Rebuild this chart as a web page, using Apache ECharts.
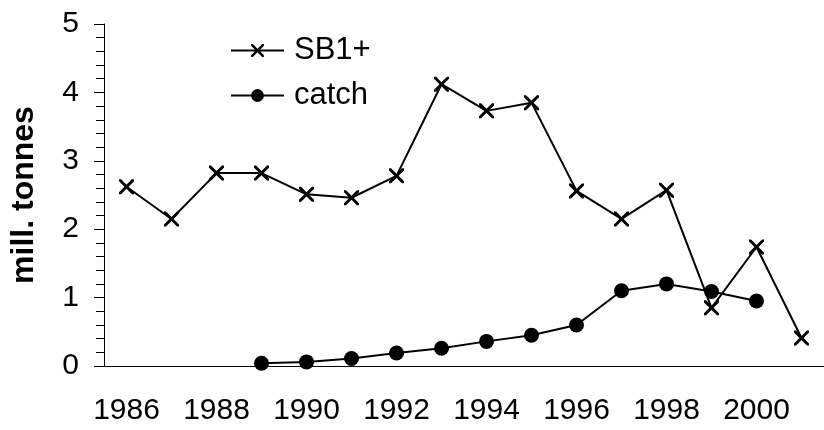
<!DOCTYPE html>
<html>
<head>
<meta charset="utf-8">
<script src="https://cdn.jsdelivr.net/npm/echarts@6/dist/echarts.min.js"></script>
<style>html,body{margin:0;padding:0;background:#fff}#c{width:824px;height:430px}</style>
</head>
<body>
<div id="c"></div>
<script>
const years = ['1986','1987','1988','1989','1990','1991','1992','1993','1994','1995','1996','1997','1998','1999','2000','2001'];
const sb1 = [2.62, 2.15, 2.82, 2.82, 2.51, 2.46, 2.78, 4.12, 3.73, 3.85, 2.56, 2.15, 2.57, 0.85, 1.74, 0.41];
const catchVals = [null, null, null, 0.04, 0.06, 0.11, 0.19, 0.26, 0.36, 0.45, 0.60, 1.10, 1.20, 1.09, 0.95, null];
const yTicks = [0, 1, 2, 3, 4, 5];

const FONT = 'Liberation Sans, Arial, sans-serif';
const xPath = 'path://M0,0 L2.2,0 L8,5.8 L13.8,0 L16,0 L16,2.2 L10.2,8 L16,13.8 L16,16 L13.8,16 L8,10.2 L2.2,16 L0,16 L0,13.8 L5.8,8 L0,2.2 Z';

const chart = echarts.init(document.getElementById('c'));
chart.setOption({
  backgroundColor: '#fff',
  animation: false,
  grid: { left: 104, top: 24, width: 725, height: 342 },
  legend: {
    orient: 'vertical', left: 225, top: 30, itemGap: 14,
    itemWidth: 53, itemHeight: 16,
    textStyle: { fontFamily: FONT, fontSize: 31, color: '#000', padding: [0, 0, 0, 5] },
    data: ['SB1+', 'catch']
  },
  xAxis: {
    type: 'category', data: years, boundaryGap: true,
    axisLine: { lineStyle: { color: '#000', width: 1 } },
    axisTick: { length: 8, lineStyle: { color: '#000' } },
    axisLabel: { interval: 1, fontFamily: FONT, fontSize: 30, color: '#000', margin: 30 }
  },
  yAxis: {
    type: 'value', min: yTicks[0], max: yTicks[yTicks.length - 1], interval: 1,
    name: 'mill. tonnes', nameLocation: 'middle', nameGap: 64,
    nameTextStyle: { fontFamily: FONT, fontSize: 32, fontWeight: 'bold', color: '#000' },
    axisLine: { show: true, lineStyle: { color: '#000', width: 1 } },
    axisTick: { show: true, length: 10, lineStyle: { color: '#000' } },
    minorTick: { show: true, splitNumber: 5, length: 8, lineStyle: { color: '#000' } },
    splitLine: { show: false },
    axisLabel: { fontFamily: FONT, fontSize: 30, color: '#000', margin: 25 }
  },
  series: [
    {
      name: 'SB1+', type: 'line', data: sb1,
      symbol: xPath, symbolSize: 15,
      lineStyle: { color: '#000', width: 2 },
      itemStyle: { color: '#000' }
    },
    {
      name: 'catch', type: 'line', data: catchVals,
      symbol: 'circle', symbolSize: 15,
      lineStyle: { color: '#000', width: 2 },
      itemStyle: { color: '#000' }
    }
  ]
});
</script>
</body>
</html>
